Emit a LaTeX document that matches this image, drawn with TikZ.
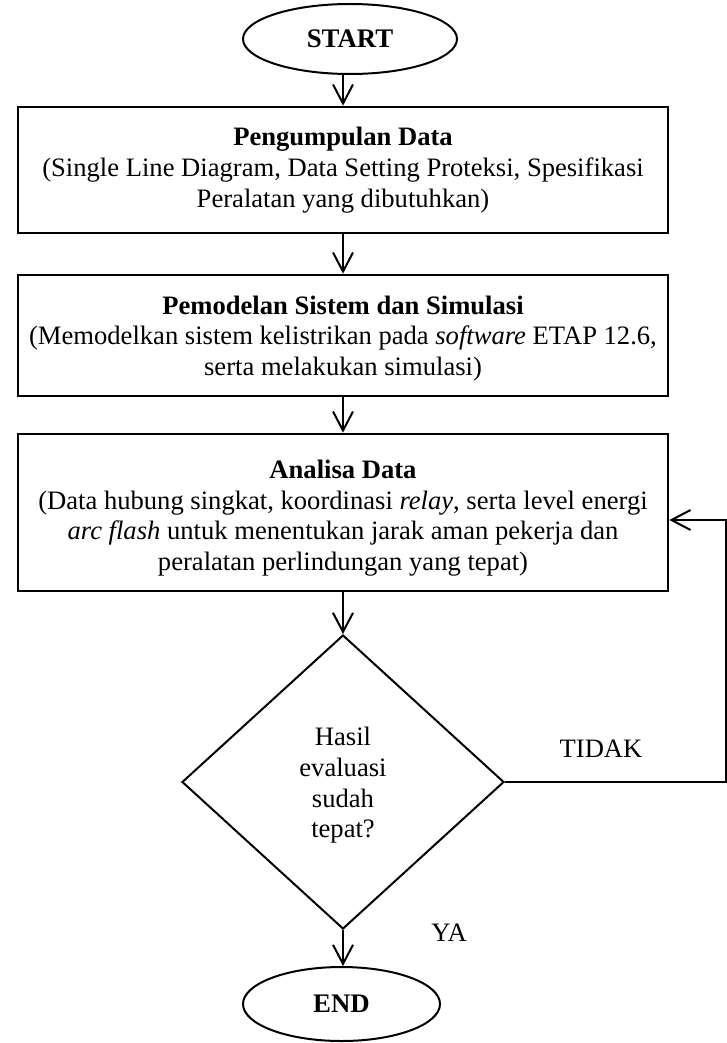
\documentclass[tikz,border=0pt]{standalone}
\usepackage{fontspec}
\setmainfont{Liberation Serif}
\usetikzlibrary{arrows.meta,shapes.geometric}
\begin{document}
\begin{tikzpicture}[x=0.5pt,y=-0.5pt,
  txt/.style={font=\fontsize{13.3pt}{15.35pt}\selectfont},
  procbox/.style={draw,line width=1.35pt,minimum width=325pt,minimum height=#1,inner sep=0pt},
  boxtext/.style={align=center,inner sep=0pt,txt},
  term/.style={draw,ellipse,line width=1pt,inner sep=0pt,font=\fontsize{13.4pt}{15.4pt}\selectfont\bfseries},
  decision/.style={draw,diamond,line width=1pt,inner sep=0pt,minimum width=161pt,minimum height=147pt},
  flow/.style={line width=1pt,-{Straight Barb[length=9.5pt,width=10pt]}}
]
\fill[white] (0,0) rectangle (727,1043);
\useasboundingbox (0,0) rectangle (727,1043);

\node[term,minimum width=107pt,minimum height=35pt] (start) at (350,39) {START};

\node[procbox=63pt] (b1) at (343,170) {};
\node[boxtext] (b1t) at (343,170) {\textbf{Pengumpulan Data}\\(Single Line Diagram, Data Setting Proteksi, Spesifikasi\\Peralatan yang dibutuhkan)};

\node[procbox=60.5pt] (b2) at (343,335.5) {};
\node[boxtext] (b2t) at (343,338.5) {\textbf{Pemodelan Sistem dan Simulasi}\\(Memodelkan sistem kelistrikan pada \textit{software} ETAP 12.6,\\serta melakukan simulasi)};

\node[procbox=78.5pt] (b3) at (343,512.5) {};
\node[boxtext] (b3t) at (343,518) {\textbf{Analisa Data}\\(Data hubung singkat, koordinasi \textit{relay}, serta level energi\\\textit{arc flash} untuk menentukan jarak aman pekerja dan\\peralatan perlindungan yang tepat)};

\node[decision] (dec) at (343,782) {};
\node[boxtext] (dect) at (343,785.5) {Hasil\\evaluasi\\sudah\\tepat?};

\node[term,minimum width=98.5pt,minimum height=37pt] (end) at (341.5,1004) {END};

\node[txt,inner sep=0pt] (tidak) at (601,749) {TIDAK};
\node[txt,inner sep=0pt] (ya) at (449,933) {YA};

\coordinate (fb) at (726,520);

\draw[flow] (start.south -| b1.north) -- (b1.north);
\draw[flow] (b1) -- (b2);
\draw[flow] (b2) -- (b3);
\draw[flow] (b3) -- (dec);
\draw[flow] (dec.south) -- (dec.south |- end.north);
\draw[flow] (dec.east) -- (dec.east -| fb) -- (fb) -- (fb -| b3.east);
\end{tikzpicture}
\end{document}
